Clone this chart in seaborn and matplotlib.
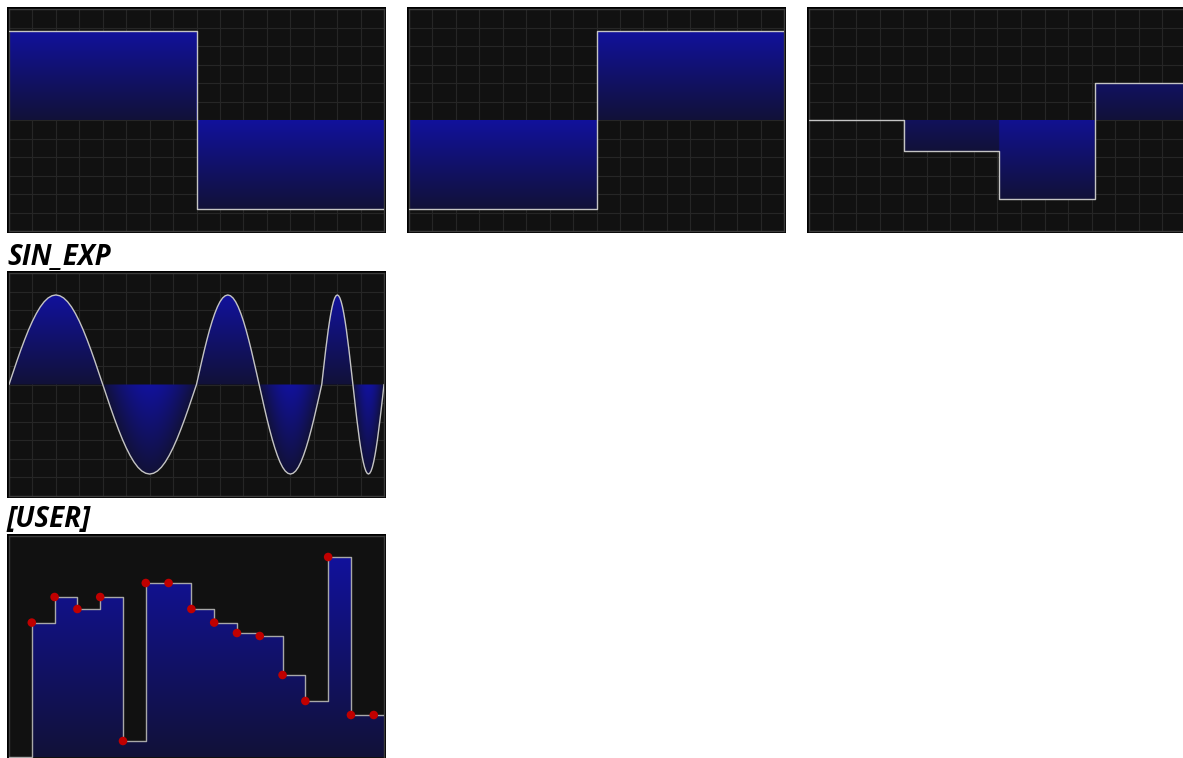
import numpy as np
import matplotlib
matplotlib.use("Agg")
import matplotlib.pyplot as plt
from matplotlib.patches import Rectangle
import seaborn as sns

# Waveform data
square_edges = [0.0, 0.5, 1.0]
square_up_down = [1.0, -1.0]
square_down_up = [-1.0, 1.0]

stair_edges = [0.0, 0.251, 0.504, 0.758, 1.0]
stair_vals = [0.0, -0.35, -0.89, 0.42]

# SIN_EXP: one cycle per segment, each segment shorter than the one before
sin_edges = [0.0, 0.5, 0.834, 1.0]
sin_cycle = [0.0, 0.131, 0.259, 0.383, 0.5, 0.609, 0.707, 0.793, 0.866, 0.924, 0.966, 0.991,
             1.0, 0.991, 0.966, 0.924, 0.866, 0.793, 0.707, 0.609, 0.5, 0.383, 0.259, 0.131,
             0.0, -0.131, -0.259, -0.383, -0.5, -0.609, -0.707, -0.793, -0.866, -0.924, -0.966, -0.991,
             -1.0, -0.991, -0.966, -0.924, -0.866, -0.793, -0.707, -0.609, -0.5, -0.383, -0.259, -0.131,
             0.0]

# [USER] step points (first point has no handle)
user_vals = [0.0, 0.672, 0.80, 0.74, 0.80, 0.08, 0.87, 0.87, 0.74, 0.672,
             0.62, 0.605, 0.41, 0.28, 1.0, 0.21, 0.21]

titles = ["SIN_EXP", "[USER]"]

BG = "#111111"
GRID = "#262626"
FRAME = "#3c3c3c"
LINE = "#c4c4c4"
DOT = "#c00000"
DARK = np.array([18, 18, 56]) / 255
BRIGHT = np.array([17, 17, 156]) / 255

WAVE_LIM = 1.245

sns.set_style("dark", {"axes.facecolor": BG})
plt.rcParams["font.family"] = ["Open Sans", "DejaVu Sans"]

W, H = 1183, 758
fig = plt.figure(figsize=(W / 100, H / 100), dpi=100)
fig.patch.set_facecolor("white")


def panel(l, t, r, b, grid=True):
    # black outer border, grey inner frame
    fig.add_artist(Rectangle((l / W, 1 - b / H), (r - l) / W, (b - t) / H,
                             transform=fig.transFigure, facecolor="black",
                             edgecolor="none", zorder=-1))
    ax = fig.add_axes([(l + 2) / W, 1 - (b - 2) / H, (r - l - 4) / W, (b - t - 4) / H])
    ax.set_facecolor(BG)
    for s in ax.spines.values():
        s.set_color(FRAME)
        s.set_linewidth(1.0)
    ax.tick_params(length=0, labelbottom=False, labelleft=False)
    ax.set_xlabel("")
    ax.set_ylabel("")
    if grid:
        ax.set_xticks(np.linspace(0, 1, 17)[1:-1])
        ax.set_yticks(np.linspace(-WAVE_LIM, WAVE_LIM, 13)[1:-1])
        ax.grid(True, color=GRID, lw=0.8)
        ax.set_axisbelow(True)
    else:
        ax.set_xticks([])
        ax.set_yticks([])
        ax.grid(False)
    return ax


def step_at(edges, vals, xc):
    idx = np.clip(np.searchsorted(edges, xc, side="right") - 1, 0, len(vals) - 1)
    return np.asarray(vals)[idx]


def gradient_fill(ax, x, y, fcol_fn, xlim, ylim, step=None):
    coll = ax.fill_between(x, y, 0, step=step, facecolor="none", edgecolor="none")
    xc = np.linspace(xlim[0], xlim[1], 900)
    yc = np.linspace(ylim[0], ylim[1], 500)
    f = fcol_fn(xc)
    b = np.clip(yc[:, None] - np.minimum(f, 0)[None, :], 0, 1)
    rgb = DARK + b[..., None] * (BRIGHT - DARK)
    im = ax.imshow(rgb, extent=[xlim[0], xlim[1], ylim[0], ylim[1]], origin="lower",
                   aspect="auto", interpolation="bilinear", zorder=1)
    im.set_clip_path(coll.get_paths()[0], transform=ax.transData)
    ax.set_xlim(*xlim)
    ax.set_ylim(*ylim)


def step_panel(ax, edges, vals):
    ys = list(vals) + [vals[-1]]
    lim = (-WAVE_LIM, WAVE_LIM)
    gradient_fill(ax, edges, ys, lambda xc: step_at(edges, vals, xc), (0, 1), lim, step="post")
    sns.lineplot(x=edges, y=ys, drawstyle="steps-post", color=LINE, lw=1.0,
                 estimator=None, sort=False, ax=ax, zorder=3)
    ax.set_xlim(0, 1)
    ax.set_ylim(*lim)
    ax.set_xlabel("")
    ax.set_ylabel("")


# Row 1: square, inverted square, staircase
step_panel(panel(7, 7, 386, 233), square_edges, square_up_down)
step_panel(panel(407, 7, 786, 233), square_edges, square_down_up)
step_panel(panel(807, 7, 1188, 233), stair_edges, stair_vals)

# Row 2: SIN_EXP
sx, sy = [], []
for c in range(len(sin_edges) - 1):
    xs = np.linspace(sin_edges[c], sin_edges[c + 1], len(sin_cycle))
    start = 0 if c == 0 else 1
    sx.extend(xs[start:])
    sy.extend(sin_cycle[start:])
sx = np.array(sx)
sy = np.array(sy)

ax = panel(7, 271, 386, 498)
lim = (-WAVE_LIM, WAVE_LIM)
gradient_fill(ax, sx, sy, lambda xc: np.interp(xc, sx, sy), (0, 1), lim)
sns.lineplot(x=sx, y=sy, color=LINE, lw=1.0, estimator=None, sort=False, ax=ax, zorder=3)
ax.set_xlim(0, 1)
ax.set_ylim(*lim)
ax.set_xlabel("")
ax.set_ylabel("")

# Row 3: [USER]
user_x = np.arange(len(user_vals))
user_xlim = (0, 16.45)
user_ylim = (-0.01, 1.105)
ux = list(user_x) + [user_xlim[1]]
uy = list(user_vals) + [user_vals[-1]]

ax = panel(7, 534, 386, 761, grid=False)
gradient_fill(ax, ux, uy, lambda xc: step_at(ux, uy, xc), user_xlim, user_ylim, step="post")
sns.lineplot(x=ux, y=uy, drawstyle="steps-post", color="#a8a8a8", lw=1.0,
             estimator=None, sort=False, ax=ax, zorder=3)
sns.scatterplot(x=user_x[1:], y=user_vals[1:], s=38, color=DOT, edgecolor="none",
                ax=ax, zorder=5)
ax.set_xlim(*user_xlim)
ax.set_ylim(*user_ylim)
ax.set_xlabel("")
ax.set_ylabel("")

# Section titles
for title, base in zip(titles, [265, 527]):
    fig.text(7 / W, 1 - base / H, title, fontsize=20, fontweight="bold",
             fontstyle="italic", va="baseline", ha="left", color="black")

fig.savefig("out.png", dpi=100, facecolor="white")
